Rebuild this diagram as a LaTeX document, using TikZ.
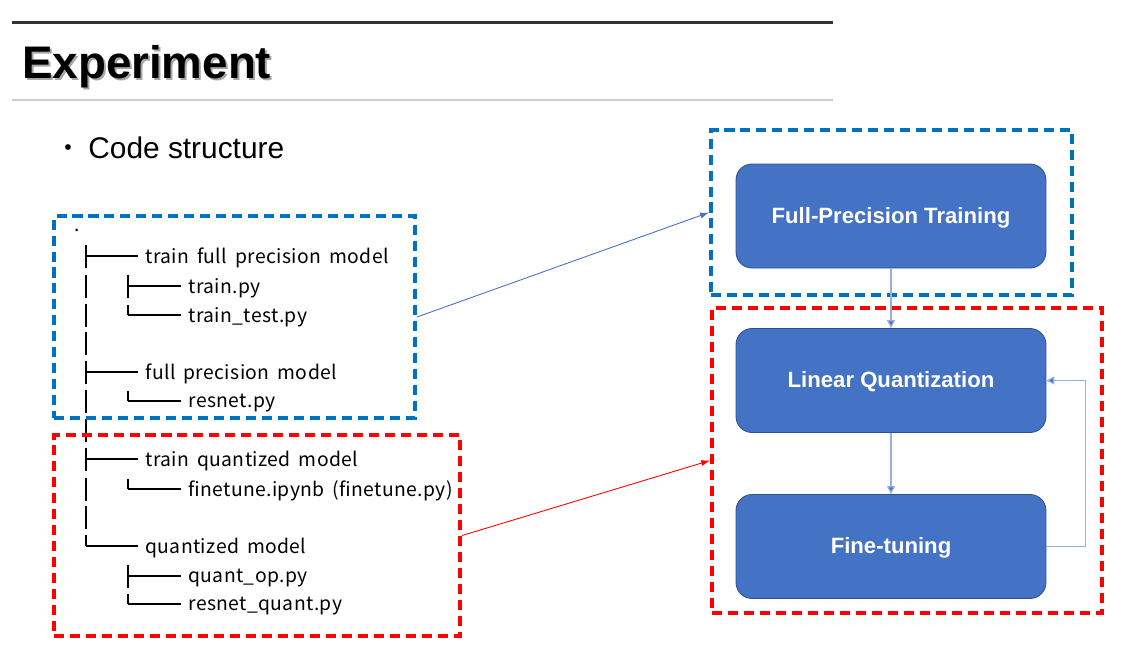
\documentclass[tikz,border=0pt]{standalone}
\usepackage{fontspec}
\setmainfont{Liberation Sans}
\newfontfamily\treefont[LetterSpace=2,WordSpace=1.7]{Noto Sans CJK KR}
\usetikzlibrary{positioning,arrows.meta}
\definecolor{boxblue}{RGB}{68,114,196}
\definecolor{boxedge}{RGB}{47,82,143}
\definecolor{frameblue}{RGB}{0,112,192}
\definecolor{arrowblue}{RGB}{150,175,222}
\tikzset{
  stage/.style={draw=boxedge, line width=0.5pt, fill=boxblue, rounded corners=0.32cm,
    minimum width=6.2cm, minimum height=2.08cm, text=white, text height=8pt, text depth=0pt,
    font=\fontsize{12.6}{14}\selectfont\bfseries},
  frame/.style={line width=2.3pt, dash pattern=on 5.7pt off 3.4pt, inner sep=0pt},
  treetext/.style={anchor=west, inner sep=0pt, font=\treefont\fontsize{11}{13}\selectfont},
  treeline/.style={line width=0.6pt, black},
  flow/.style={arrowblue, line width=0.7pt, -{Triangle[length=4.5pt,width=4.5pt,fill=boxblue]}}
}
\begin{document}
\begin{tikzpicture}[x=0.02cm,y=-0.02cm]
    \useasboundingbox (0,0) rectangle (1130,654);

    % heading
    \draw[line width=1.7pt, black!80] (12,22) -- (833,22);
    \draw[line width=0.6pt, black!20] (12,100) -- (833,100);
    \node[anchor=base west, inner sep=0pt, text=black!35, font=\fontsize{26}{30}\selectfont\bfseries] (titleshadow) at (24,80) {Experiment};
    \node[anchor=base west, inner sep=0pt, font=\fontsize{26}{30}\selectfont\bfseries] (title) at (22,78) {Experiment};
    \node[inner sep=0pt, font=\fontsize{12}{14}\selectfont] (bullet) at (68,150) {•};
    \node[anchor=west, inner sep=0pt, font=\fontsize{17}{20}\selectfont] (subtitle) at (88,148) {Code structure};

    % directory tree
    \node[treetext] (root) at (74,230) {.};
    \foreach \y/\t [count=\i] in {258/train full precision model, 374/full precision model,
        461/train quantized model, 548/quantized model}
      \node[treetext] (dir\i) at (145,\y) {\t};
    \foreach \y/\t [count=\i] in {288/train.py, 317/train\_test.py, 403/resnet.py,
        491/finetune.ipynb (finetune.py), 578/quant\_op.py, 606/resnet\_quant.py}
      \node[treetext] (file\i) at (188,\y) {\t};

    \foreach \y in {256,286,315,343,372,401,430,459,489,517}
      \draw[treeline] (86,\y-11.5) -- (86,\y+11.5);
    \draw[treeline] (86,534.5) -- (86,546);
    \foreach \y in {256,372,459,546}
      \draw[treeline] (86,\y) -- (138,\y);

    \foreach \y in {286,576}
      \draw[treeline] (128,\y-11.5) -- (128,\y+11.5);
    \foreach \y in {315,401,489,604}
      \draw[treeline] (128,\y-10) -- (128,\y);
    \foreach \y in {286,315,401,489,576,604}
      \draw[treeline] (128,\y) -- (181,\y);

    % frames
    \node[frame, draw=frameblue, minimum width=7.22cm, minimum height=4.04cm] (treefp) at (234.5,317) {};
    \node[frame, draw=red, minimum width=8.12cm, minimum height=4.02cm] (treeq) at (257,535.5) {};
    \node[frame, draw=frameblue, minimum width=7.22cm, minimum height=3.3cm] (flowfp) at (891.5,212.5) {};
    \node[frame, draw=red, minimum width=7.8cm, minimum height=6.1cm] (flowq) at (907,460.5) {};

    % stages
    \node[stage] (fpt) at (891,216) {Full-Precision Training};
    \node[stage] (lq) at (891,380.5) {Linear Quantization};
    \node[stage] (ft) at (891,546.5) {Fine-tuning};

    \draw[flow] (fpt) -- (lq);
    \draw[flow] (lq) -- (ft);
    \draw[flow] (ft.east) -- ++(39,0) |- (lq.east);

    \draw[boxblue, line width=0.5pt, -{Latex[length=5pt,width=3.5pt]}] (treefp.east) -- (flowfp.west);
    \draw[red, line width=0.5pt, -{Latex[length=5pt,width=3.5pt]}] (treeq.east) -- (flowq.west);
\end{tikzpicture}
\end{document}
